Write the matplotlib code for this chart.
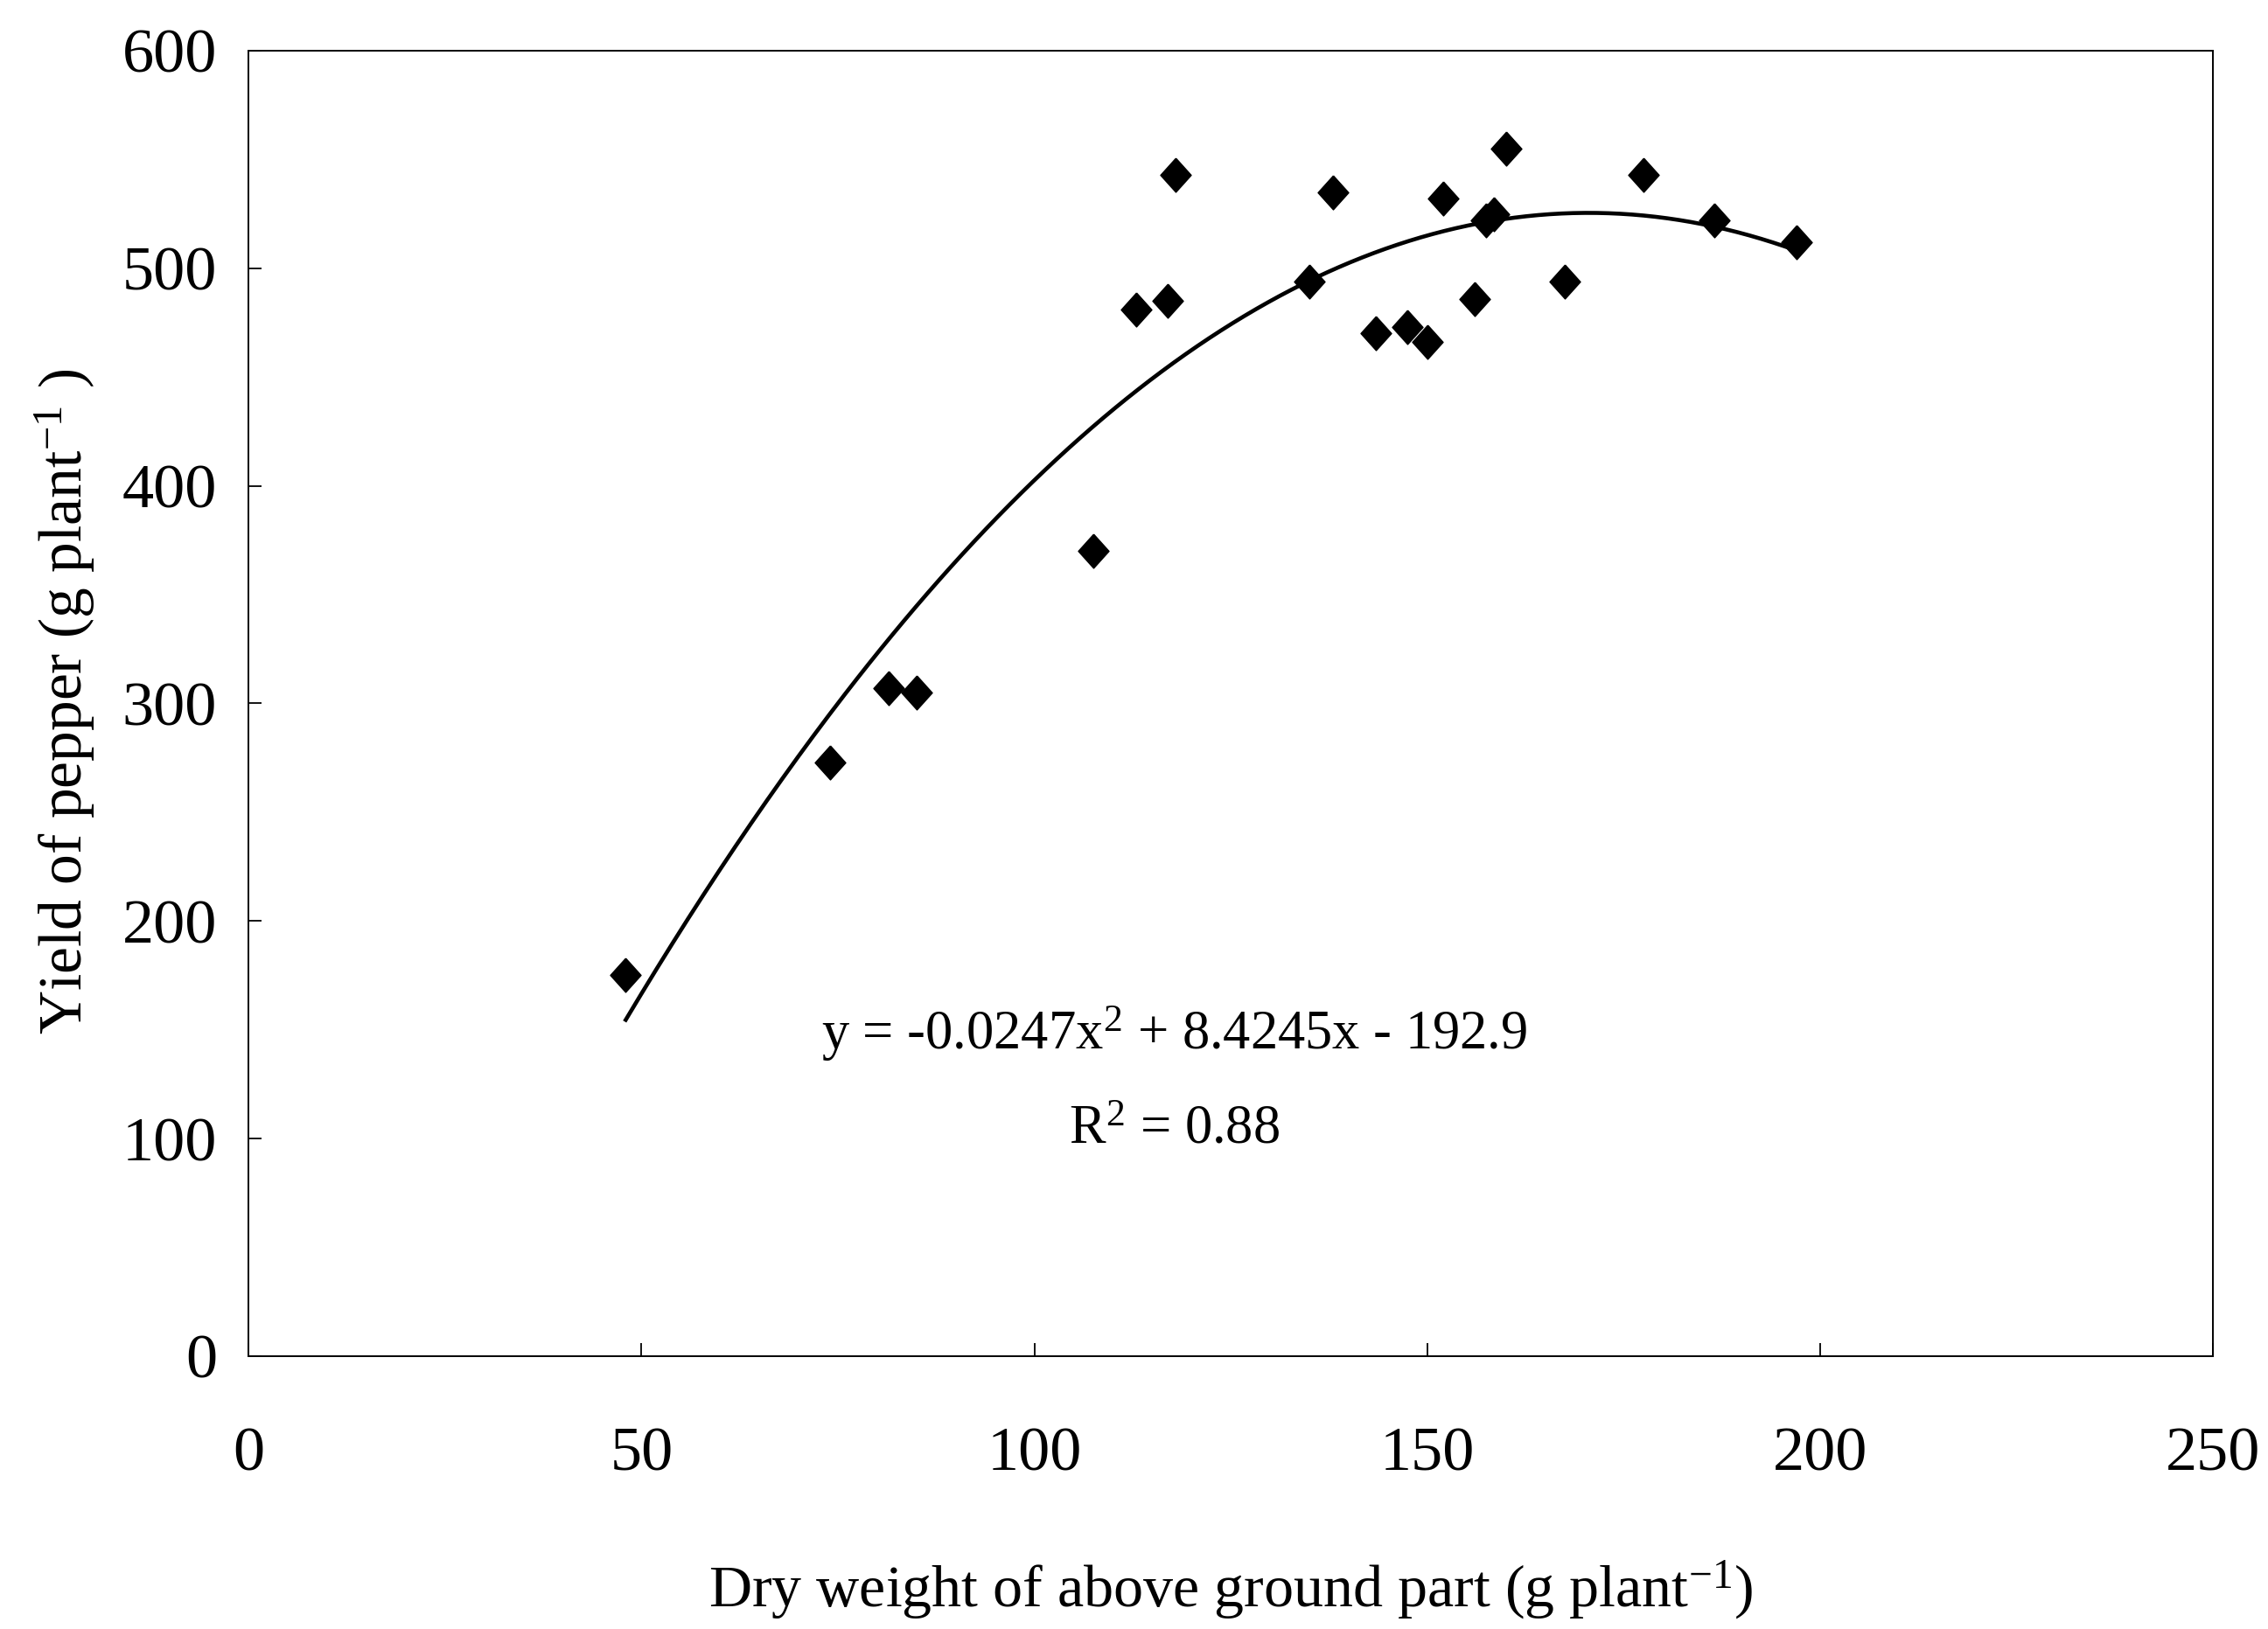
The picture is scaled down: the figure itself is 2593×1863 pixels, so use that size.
import numpy as np
import matplotlib
matplotlib.use("Agg")
import matplotlib.pyplot as plt

plt.rcParams["font.family"] = "Liberation Serif"
plt.rcParams["mathtext.fontset"] = "custom"
plt.rcParams["mathtext.rm"] = "Liberation Serif"
plt.rcParams["mathtext.it"] = "Liberation Serif:italic"
plt.rcParams["mathtext.bf"] = "Liberation Serif:bold"

# dry weight of above ground part and pepper yield, both g per plant
dry_weight = np.array([48, 74, 81.5, 85, 107.5, 113, 117, 118, 135, 138,
                       143.5, 147.5, 150, 152, 156, 157.5, 158.5, 160,
                       167.5, 177.5, 186.5, 197])
pepper_yield = np.array([175, 273, 307, 305, 370, 481, 485, 543, 494, 535,
                         470, 473, 466, 532, 486, 522, 525, 555,
                         494, 543, 522, 512])

# quadratic trend line
fit_coef = [-0.0247, 8.4245, -192.9]
r_squared = 0.88

x_ticks = [0, 50, 100, 150, 200, 250]
y_ticks = [0, 100, 200, 300, 400, 500, 600]

fig = plt.figure(figsize=(25.93, 18.63), dpi=100)
ax = fig.add_axes([0.1096, 0.1675, 0.8661, 0.8014])

xs = np.linspace(dry_weight.min(), dry_weight.max(), 300)
ax.plot(xs, np.polyval(fit_coef, xs), color="black", lw=3.3, zorder=2)

diamond = [(0, 1), (0.9, 0), (0, -1), (-0.9, 0), (0, 1)]
ax.plot(dry_weight, pepper_yield, linestyle="none", marker=diamond,
        markersize=28, color="black", zorder=3)

ax.set_xlim(0, 250)
ax.set_ylim(0, 600)
ax.set_xticks(x_ticks)
ax.set_yticks(y_ticks)
ax.tick_params(axis="both", direction="in", length=11, width=1.3,
               labelsize=52)
ax.tick_params(axis="x", pad=58)
ax.tick_params(axis="y", pad=26)
for sp in ax.spines.values():
    sp.set_linewidth(1.4)

ax.set_xlabel(r"Dry weight of above ground part (g plant$^{\mathrm{-1}}$)",
              fontsize=49)
ax.xaxis.set_label_coords(0.5, -0.155)
fig.text(0.0285, 0.569, r"Yield of pepper (g plant$^{\mathrm{-1}}$ )",
         rotation=90, ha="center", va="center", fontsize=50)

a, b, c = fit_coef
eq = "y = %gx$^{\\mathrm{2}}$ + %gx - %g" % (a, b, -c)
ax.text(117.8, 141, eq, ha="center", va="baseline", fontsize=45)
ax.text(117.8, 98, "R$^{\\mathrm{2}}$ = %.2f" % r_squared, ha="center",
        va="baseline", fontsize=45)

fig.savefig("out.png", dpi=100, facecolor="white")
